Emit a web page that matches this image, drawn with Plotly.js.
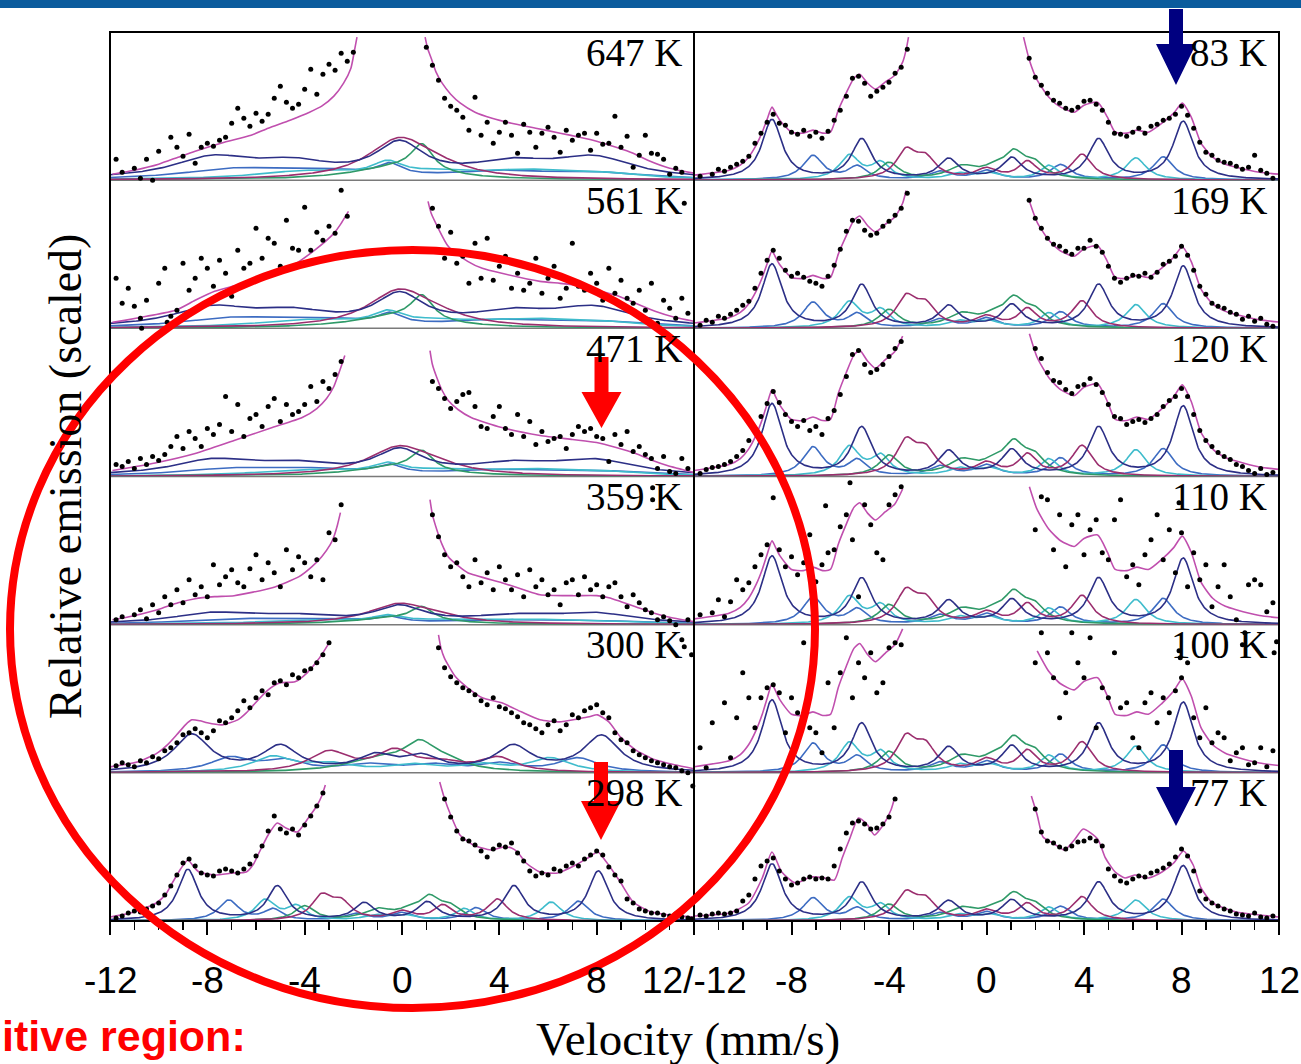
<!DOCTYPE html>
<html>
<head>
<meta charset="utf-8">
<script src="https://cdn.plot.ly/plotly-3.0.1.min.js"></script>
<style>
html,body{margin:0;padding:0;background:#ffffff;overflow:hidden;}
#chart{width:1301px;height:1064px;}
</style>
</head>
<body>
<div id="chart"></div>
<script>
// ================= DATA =================
// velocity in mm/s, emission in panel units (0 = panel baseline)
const temperatureLabels = ['647 K','561 K','471 K','359 K','300 K','298 K','83 K','169 K','120 K','110 K','100 K','77 K'];
const leftTickVel = [-12,-8,-4,0,4,8,12];
const leftTickText = ['-12','-8','-4','0','4','8','12/-12'];
const rightTickVel = [-8,-4,0,4,8,12];
const rightTickText = ['-8','-4','0','4','8','12'];

// ---- fitted envelopes [velocity, emission] ----
const fit647L = [[-11.9,6],[-11,10],[-10,16],[-9.2,23],[-8.5,29],[-7.3,38],[-6.2,45],[-5.5,52],[-4.6,60],[-3.8,68],[-3.3,74],[-2.8,84],[-2.4,97],[-2.1,112],[-1.95,130],[-1.85,143]];
const fit647R = [[0.95,143],[1.05,132],[1.2,122],[1.4,108],[1.65,97],[2.0,86],[2.4,77],[3.0,68],[3.7,62],[4.5,57],[5.5,52],[6.5,47],[7.3,43],[8.0,39],[8.8,33],[9.5,27],[10.1,20],[11,12],[12,7]];
const fit561L = [[-11.9,6],[-11.4,8],[-10.5,12],[-9.3,18],[-8.5,28],[-7.7,37],[-6.8,43],[-5.8,50],[-4.55,62],[-3.6,78],[-2.8,95],[-2.5,105],[-2.3,113],[-2.2,117]];
const fit561R = [[1.07,127],[1.2,115],[1.43,103],[1.9,82],[2.7,67],[3.3,60],[4.1,55],[5.67,47],[6.5,45],[7.2,43],[8.0,38],[8.8,33],[9.6,25],[10.4,17],[11.2,11],[12,7]];
const fit471L = [[-11.9,6],[-11.4,8],[-10.05,14],[-8.5,23],[-6.9,36],[-5.33,49],[-4.1,59],[-3.5,68],[-3.1,78],[-2.8,90],[-2.66,99],[-2.5,110],[-2.35,121]];
const fit471R = [[1.15,126],[1.25,112],[1.43,99],[1.65,86],[1.9,76],[2.3,67],[2.84,59],[4.1,49],[5.67,41],[7.0,37],[8.0,34],[8.8,29],[9.6,23],[10.3,16],[10.9,11],[12,4]];
const fit359L = [[-11.9,5],[-11.4,7],[-10.05,15],[-9.2,22],[-8.5,26],[-7.7,28],[-6.9,29],[-5.33,37],[-4.23,48],[-3.7,58],[-3.3,68],[-2.95,80],[-2.8,88],[-2.65,100],[-2.53,112]];
const fit359R = [[1.15,125],[1.25,110],[1.43,95],[1.65,80],[1.9,68],[2.3,59],[2.7,52],[4.1,42],[5.0,35],[5.67,30],[7.0,29],[8.0,29],[8.5,27],[9.0,23],[9.6,18],[10.3,12],[10.9,8],[12,3]];
const fit300L = [[-12,6],[-10.84,11],[-10.05,20],[-9.6,29],[-9.26,38],[-8.9,48],[-8.64,53],[-8.3,52],[-8.0,50],[-7.4,48],[-6.75,53],[-6.4,60],[-6.1,68],[-5.5,83],[-5.0,90],[-4.4,91],[-3.9,100],[-3.45,113],[-3.2,122],[-2.97,131]];
const fit300R = [[1.5,138],[1.6,125],[1.74,115],[2.2,96],[2.7,85],[3.3,75],[4.1,70],[4.9,61],[5.67,53],[6.46,51],[7.24,54],[7.7,56],[8.03,58],[8.5,51],[8.97,36],[9.6,23],[10.4,13],[11.2,8],[12,4]];
const fit298L = [[-12,4],[-11,9],[-10.1,18],[-9.7,27],[-9.44,38],[-9.1,52],[-8.8,61],[-8.55,54],[-8.34,49],[-7.7,46],[-6.96,48],[-6.4,49],[-6.1,57],[-5.86,69],[-5.5,86],[-5.13,98],[-4.77,93],[-4.3,89],[-3.85,103],[-3.48,116],[-3.3,125],[-3.15,136]];
const fit298R = [[1.55,139],[1.74,123],[2.0,106],[2.38,86],[2.93,76],[3.66,71],[4.2,74],[4.5,73],[4.75,69],[5.1,58],[5.67,49],[6.4,48],[7.14,56],[7.7,64],[8.05,69],[8.4,59],[8.97,39],[9.5,19],[10.25,9],[11,6],[12,4]];
const fitLowTL = [[-12,5],[-10.56,10],[-10.1,15],[-9.76,23],[-9.45,35],[-9.2,48],[-9.0,61],[-8.8,73],[-8.65,67],[-8.48,60],[-8.0,48],[-7.52,47],[-7.12,50],[-6.72,47],[-6.4,48],[-6.08,70],[-5.76,87],[-5.44,102],[-5.2,106],[-4.88,97],[-4.56,91],[-4.16,98],[-3.76,105],[-3.44,118],[-3.3,130],[-3.2,143]];
const fitLowTR = [[1.52,143],[1.76,120],[2.08,100],[2.56,83],[3.04,73],[3.6,68],[4.0,75],[4.56,78],[4.96,63],[5.28,48],[5.76,47],[6.16,50],[6.64,48],[7.2,57],[7.68,67],[8.03,77],[8.4,63],[8.8,37],[9.28,23],[9.8,16],[10.24,13],[11.2,8],[12,6]];
const fit77L = [[-12,5],[-10.56,8],[-9.76,18],[-9.2,43],[-8.8,69],[-8.4,49],[-7.84,38],[-7.2,44],[-6.64,43],[-6.24,41],[-5.92,63],[-5.6,83],[-5.25,103],[-4.88,96],[-4.6,86],[-4.24,96],[-3.92,111],[-3.76,124]];
const fit77R = [[1.84,125],[2.08,106],[2.32,84],[2.72,78],[3.2,71],[3.6,81],[3.97,92],[4.56,82],[4.88,63],[5.28,49],[5.68,43],[6.08,46],[6.64,43],[7.2,49],[7.68,58],[8.08,70],[8.48,56],[8.8,33],[9.28,18],[10.24,9],[11.2,6],[12,4]];
const lowTFitScale = {'83 K':1.0,'169 K':1.06,'120 K':1.19,'110 K':1.15,'100 K':1.22};

// ---- measured points: left arrays start at -11.75, right arrays end at +11.75, 0.25 mm/s channels ----
const dots647L = [21,8,-6,12,2,21,0,29,-7,43,33,24,46,17,33,37,34,40,43,57,72,62,54,67,59,66,82,94,78,72,76,91,111,86,106,116,110,127,119,128];
const dots647R = [133,115,100,82,74,70,63,50,83,45,58,37,48,58,45,27,56,48,33,47,53,43,28,50,40,45,47,30,47,36,37,64,33,44,13,25,45,27,26,21,6,12,8,-2];
const dots561L = [50,25,40,22,10,28,-2,45,60,12,18,65,38,50,70,60,42,68,55,32,78,60,65,100,70,90,85,62,108,80,78,121,78,96,88,102,95,138,112];
const dots561R = [120,102,70,96,65,72,45,85,50,90,48,62,72,40,55,38,45,70,35,50,62,30,40,85,42,38,55,45,28,60,35,48,30,25,38,18,45,5,28,20,10,30,15];
const dots471L = [12,10,15,8,18,12,20,16,22,30,40,28,45,38,30,48,42,52,80,45,72,40,58,62,50,70,78,55,72,62,65,72,90,75,95,88,102,115];
const dots471R = [95,88,78,68,75,82,84,70,50,48,60,70,48,42,62,40,55,32,45,35,38,40,28,42,50,45,48,40,38,15,42,32,45,25,30,22,18,8,20,5,3,18,8];
const dots359L = [5,8,-2,10,15,6,20,12,28,20,35,22,45,30,38,28,60,40,48,55,42,38,56,70,45,62,52,38,75,55,68,62,48,65,45,92,85,120];
const dots359R = [110,88,70,58,62,48,38,65,42,52,35,58,45,35,50,28,55,38,45,30,35,20,42,45,30,48,35,40,28,38,42,28,18,30,22,15,12,5,8,4,0,-2,5];
const dots300L = [7,10,8,6,12,10,16,14,22,25,30,38,40,44,40,35,42,52,50,55,62,72,65,75,82,78,90,92,88,98,95,102,104,110,118,130];
const dots300R = [125,105,96,90,85,82,78,72,68,75,66,64,60,56,50,48,44,40,48,52,42,48,58,55,62,65,68,60,55,40,33,30,22,18,15,12,10,8,6,5,2,0];
const dots298L = [3,5,8,10,9,12,15,18,26,35,46,58,62,55,48,46,45,50,52,50,48,52,57,65,75,90,105,92,88,92,86,96,105,115,128];
const dots298R = [122,104,90,82,80,76,70,64,72,76,74,78,68,60,50,45,48,46,52,50,55,58,55,62,66,70,66,54,46,40,22,18,12,10,8,8,6,5,7,4,3];
const dots83L = [4,-2,6,11,9,13,16,19,24,37,47,58,66,57,55,48,46,50,44,48,42,49,60,70,84,102,104,97,84,89,93,98,107,113,131];
const dots83R = [122,103,95,87,80,77,72,70,73,79,80,76,70,58,47,46,44,48,52,47,54,56,60,62,66,74,65,52,38,28,25,20,18,17,14,11,13,25,10,7,2];
const dots169L = [3,8,6,12,10,14,18,23,27,40,55,68,78,70,58,52,55,51,47,45,42,52,63,79,97,108,107,98,93,95,102,107,113,120,135];
const dots169R = [128,110,100,90,84,82,77,74,80,80,88,82,76,62,50,46,50,53,52,55,51,56,64,67,72,82,73,58,42,34,25,22,20,16,14,9,12,7,10,4,2];
const dots120L = [3,7,9,10,12,15,20,26,36,48,60,73,85,74,62,55,50,56,46,50,42,58,66,82,100,122,126,112,104,107,112,120,128,135];
const dots120R = [128,118,104,96,94,87,83,90,92,98,92,84,72,60,58,52,55,57,54,58,62,70,76,80,88,80,62,46,36,30,24,20,17,12,10,6,3,8,2,4];
const dots110L = [10,-2,12,25,8,23,45,35,42,58,70,80,127,75,58,68,50,62,90,43,60,72,75,98,110,85,28,120,100,72,65,120,130,138];
const dots110R = [95,128,125,75,110,58,100,110,70,95,105,72,65,105,125,48,60,40,70,85,110,65,95,52,92,38,72,45,60,18,38,60,28,5,-2,40,45,40,13,22];
const dots100L = [25,5,50,-3,70,15,55,100,75,45,75,85,88,80,40,75,60,130,45,40,20,90,45,100,135,75,110,95,120,80,90,125,130,128];
const dots100R = [110,140,120,95,55,80,140,110,95,135,45,85,75,120,65,70,35,25,70,80,50,75,60,82,95,110,55,35,65,30,40,35,12,20,25,8,10,25,6,22];
const dots77L = [6,5,7,8,7,8,10,20,26,42,55,60,63,50,42,36,38,42,44,42,43,42,55,72,88,98,100,97,92,93,97,104,122];
const dots77R = [112,89,80,78,74,72,75,79,80,83,80,75,52,45,40,38,42,45,44,48,50,53,57,64,72,65,50,30,22,18,15,12,10,7,6,5,8,4,3,5];

// ---- stray points outside the channel grid [velocity, emission] ----
const extra647 = [[-11.4,-2],[-11.15,-10],[-11.0,-23],[-10.75,-11],[-10.45,-4],[-9.9,-5],[-9.25,-11],[1.1,-2],[11.3,-3],[11.6,-2]];
const extra561 = [[-10.9,-20],[-10.1,-26],[-9.5,-20],[-10.7,0],[-9.65,6],[11.6,125],[11.9,-3]];
const extra471 = [[-11.3,-18],[-10.4,-2],[-9.8,-6],[-9.4,-16],[-9.2,-5],[11.9,-4]];
const extra359 = [[-11.2,-13],[-11.15,-25],[-10.9,-7],[-10.6,-17],[-10.4,-10],[-10.0,-13],[-9.65,-8],[10.3,137],[10.3,125],[11.9,-2]];
const extra300 = [[-11.7,-4],[-11.9,-1],[11.5,133],[11.6,126],[11.9,118]];
const extra298 = [[11.95,135],[11.9,2]];
const extra83 = [[-11.2,-3],[-10.5,-2],[10.96,-2],[11.6,-3]];
const extra169 = [[-11.0,-2],[-10.2,-3],[11.8,-3]];
const extra120 = [[-12,-23],[-8.9,-21],[-8.7,-5],[-5.5,-6],[2.4,-6],[5.5,-16],[7.0,-8],[11.8,-2]];
const extra110 = [[-11.9,-27],[-11.05,-18],[-10.0,-8],[-9.3,-20],[-8.9,-7],[-9.4,-30],[-11.7,-33],[-5.6,-12],[2.0,-2],[2.8,-22],[3.44,-35],[3.9,-8],[4.5,-32],[5.2,-43],[8.7,-2],[10.5,-8],[11.9,-17],[7.9,122],[-6.6,119],[-5.6,142]];
const extra100 = [[-10.1,-40],[-8.5,-19],[-10.8,-15],[-7.0,-10],[10.56,-40],[11.6,-43],[7.3,-24],[10.9,-32],[7.9,122],[7.95,115],[10.6,140],[10.5,128],[11.8,120],[11.9,131]];
const extra77 = [[11.9,-2]];

// ---- fitted sub-spectra: peaks [centre, height, half-width] ----
const highT_navy   = [[-7.8,20,2],[-4.5,14,2],[-0.1,33,1.2],[4.5,14,2],[7.9,20,2]];
const highT_blue   = [[-7,9,2.5],[-3.5,8,2.5],[-0.5,11,0.6],[4,7,2.5],[8,6,2.5]];
const highT_cyan   = [[-4,8,2.5],[-0.6,14,0.8],[1.5,5,1.5],[5,8,2.5],[8,5,2]];
const highT_green  = [[0.82,27,0.55],[-0.3,12,2.2]];
const highT_purple = [[-0.1,40,1.6],[1.5,6,1.5]];
const highTScale = {'647 K':1.0,'561 K':0.92,'471 K':0.72,'359 K':0.5};

const r300_navy   = [[-8.64,37,0.9],[-5.0,25,0.9],[-1.1,15,0.9],[0.8,14,0.9],[4.57,25,0.9],[8.2,36,0.9]];
const r300_blue   = [[-7.06,14,1],[-4.86,11,1],[-1.5,7,1.2],[1.2,7,1.2],[4.0,8,1],[7.24,14,1]];
const r300_cyan   = [[-5.33,15,1],[-3.0,8,1.2],[0.5,7,1.2],[3.3,7,1],[6.1,14,1]];
const r300_green  = [[0.72,24,0.8],[-1.0,12,1.6],[1.8,8,1]];
const r300_purple = [[-3.0,20,1.0],[-0.3,20,0.9],[1.6,8,1],[3.94,14,0.9]];

const lowT_navy   = [[-8.8,60,0.5],[-5.12,40,0.5],[-1.55,20,0.5],[1.04,21,0.5],[4.6,40,0.5],[8.07,58,0.5]];
const lowT_blue   = [[-7.12,24,0.5],[-5.3,13,0.45],[-1.9,8,0.55],[0.0,9,0.55],[3.04,15,0.5],[7.25,23,0.5]];
const lowT_cyan   = [[-5.62,24,0.5],[-4.34,16,0.45],[-1.1,6,0.55],[0.1,6,0.55],[2.56,14,0.45],[6.13,22,0.5]];
const lowT_green  = [[-4.0,17,0.5],[-1.0,12,0.7],[0.3,8,0.6],[1.12,23,0.5],[1.95,14,0.55]];
const lowT_purple = [[-3.3,27,0.5],[-2.5,19,0.5],[0.0,10,0.55],[1.68,17,0.45],[3.92,25,0.5]];
const lowTScale = {'298 K':0.85,'83 K':1.0,'169 K':1.06,'120 K':1.2,'110 K':1.13,'100 K':1.2,'77 K':0.94};

// ================= LAYOUT CONSTANTS =================
const W = 1301, H = 1064;
const PL = 110, PM = 694, PR = 1279, PT = 32, PB = 921;
const ROWH = (PB - PT) / 6;
const CH = 0.25;
const compColors = ['#3d6cc2','#3fbccc','#2f9a68','#9b2e6e','#2c2f86']; // blue, cyan, green, purple, navy
const fitColor = '#c04fae';
const serif = '"Liberation Serif","Times New Roman",serif';
const sans = '"Liberation Sans",Arial,sans-serif';

const GRID = [];
for (let i = 0; i <= 600; i++) GRID.push(-12 + i * 0.04);
function lorentz(peaks, s) {
  return GRID.map(v => peaks.reduce((acc, p) => acc + s * p[1] / (1 + Math.pow((v - p[0]) / p[2], 2)), 0));
}
const leftCh = n => Array.from({length:n}, (_, i) => -11.75 + i * CH);
const rightCh = n => Array.from({length:n}, (_, i) => 11.75 - (n - 1 - i) * CH);

const highT = [highT_blue, highT_cyan, highT_green, highT_purple, highT_navy];
const r300 = [r300_blue, r300_cyan, r300_green, r300_purple, r300_navy];
const lowT = [lowT_blue, lowT_cyan, lowT_green, lowT_purple, lowT_navy];

const panels = [
  {t:temperatureLabels[0], col:0,row:0, fL:fit647L, fR:fit647R, fs:1, dL:dots647L, dR:dots647R, ex:extra647, comps:highT, cs:highTScale['647 K']},
  {t:temperatureLabels[1], col:0,row:1, fL:fit561L, fR:fit561R, fs:1, dL:dots561L, dR:dots561R, ex:extra561, comps:highT, cs:highTScale['561 K']},
  {t:temperatureLabels[2], col:0,row:2, fL:fit471L, fR:fit471R, fs:1, dL:dots471L, dR:dots471R, ex:extra471, comps:highT, cs:highTScale['471 K']},
  {t:temperatureLabels[3], col:0,row:3, fL:fit359L, fR:fit359R, fs:1, dL:dots359L, dR:dots359R, ex:extra359, comps:highT, cs:highTScale['359 K']},
  {t:temperatureLabels[4], col:0,row:4, fL:fit300L, fR:fit300R, fs:1, dL:dots300L, dR:dots300R, ex:extra300, comps:r300, cs:1},
  {t:temperatureLabels[5], col:0,row:5, fL:fit298L, fR:fit298R, fs:1, dL:dots298L, dR:dots298R, ex:extra298, comps:lowT, cs:lowTScale['298 K']},
  {t:temperatureLabels[6], col:1,row:0, fL:fitLowTL, fR:fitLowTR, fs:lowTFitScale['83 K'],  dL:dots83L,  dR:dots83R,  ex:extra83,  comps:lowT, cs:lowTScale['83 K']},
  {t:temperatureLabels[7], col:1,row:1, fL:fitLowTL, fR:fitLowTR, fs:lowTFitScale['169 K'], dL:dots169L, dR:dots169R, ex:extra169, comps:lowT, cs:lowTScale['169 K']},
  {t:temperatureLabels[8], col:1,row:2, fL:fitLowTL, fR:fitLowTR, fs:lowTFitScale['120 K'], dL:dots120L, dR:dots120R, ex:extra120, comps:lowT, cs:lowTScale['120 K']},
  {t:temperatureLabels[9], col:1,row:3, fL:fitLowTL, fR:fitLowTR, fs:lowTFitScale['110 K'], dL:dots110L, dR:dots110R, ex:extra110, comps:lowT, cs:lowTScale['110 K']},
  {t:temperatureLabels[10], col:1,row:4, fL:fitLowTL, fR:fitLowTR, fs:lowTFitScale['100 K'], dL:dots100L, dR:dots100R, ex:extra100, comps:lowT, cs:lowTScale['100 K']},
  {t:temperatureLabels[11], col:1,row:5, fL:fit77L, fR:fit77R, fs:1, dL:dots77L, dR:dots77R, ex:extra77, comps:lowT, cs:lowTScale['77 K']}
];

const px = x => x / W;
const py = y => 1 - y / H;

const traces = [];
const layout = {
  width: W, height: H,
  margin: {l:0, r:0, t:0, b:0},
  paper_bgcolor: '#ffffff',
  plot_bgcolor: 'rgba(0,0,0,0)',
  showlegend: false,
  shapes: [], annotations: []
};

panels.forEach((p, i) => {
  const n = i + 1;
  const xa = 'x' + (n > 1 ? n : ''), ya = 'y' + (n > 1 ? n : '');
  const xk = 'xaxis' + (n > 1 ? n : ''), yk = 'yaxis' + (n > 1 ? n : '');
  const top = PT + p.row * ROWH, bot = top + ROWH;
  const x0 = p.col === 0 ? PL : PM, x1 = p.col === 0 ? PM : PR;
  const isBottom = p.row === 5;
  layout[xk] = {
    domain: [px(x0), px(x1)], range: [-12, 12], anchor: ya,
    showgrid: false, zeroline: false, showline: false, showticklabels: false,
    ticks: isBottom ? 'outside' : '', tickmode: 'linear', tick0: 0, dtick: 4,
    ticklen: 13, tickwidth: 2, tickcolor: '#000',
    minor: isBottom ? {ticks:'outside', tickmode:'linear', tick0:0, dtick:1, ticklen:8, tickwidth:1.5, tickcolor:'#000', showgrid:false} : undefined,
    fixedrange: true
  };
  layout[yk] = {
    domain: [py(bot), py(top)], range: [0, ROWH], anchor: xa,
    showgrid: false, zeroline: false, showline: false, showticklabels: false, ticks: '', fixedrange: true
  };
  p.comps.forEach((pk, k) => {
    traces.push({type:'scatter', mode:'lines', x: GRID, y: lorentz(pk, p.cs), xaxis: xa, yaxis: ya,
      line: {color: compColors[k], width: 1.6}, hoverinfo: 'skip'});
  });
  [p.fL, p.fR].forEach(seg => {
    const pts = seg.filter(q => q[1] * p.fs <= 146);
    traces.push({type:'scatter', mode:'lines', x: pts.map(q => q[0]), y: pts.map(q => q[1] * p.fs),
      xaxis: xa, yaxis: ya, line: {color: fitColor, width: 1.6, shape: 'spline', smoothing: 0.6}, hoverinfo: 'skip'});
  });
  const dx = leftCh(p.dL.length).concat(rightCh(p.dR.length), p.ex.map(q => q[0]));
  const dy = p.dL.concat(p.dR, p.ex.map(q => q[1]));
  traces.push({type:'scatter', mode:'markers', x: dx, y: dy, xaxis: xa, yaxis: ya, cliponaxis: false,
    marker: {size: 5, color: '#000'}, hoverinfo: 'skip'});
  layout.annotations.push({xref:'paper', yref:'paper', x: px(p.col === 0 ? 684 : 1269), y: py(top + 20),
    xanchor:'right', yanchor:'middle', showarrow:false, text: p.t, font:{family: serif, size: 39, color:'#000'}});
  if (p.row > 0 && p.col === 0) {
    layout.shapes.push({type:'line', xref:'paper', yref:'paper', x0: px(PL), x1: px(PR), y0: py(top), y1: py(top),
      line:{color:'#7a7a7a', width:1.5}, layer:'below'});
  }
});

leftTickVel.forEach((v, j) => layout.annotations.push({xref:'x6', yref:'paper', x: v, y: py(980), xanchor:'center', yanchor:'middle',
  showarrow:false, text: leftTickText[j], font:{family: sans, size: 37, color:'#000'}}));
rightTickVel.forEach((v, j) => layout.annotations.push({xref:'x12', yref:'paper', x: v, y: py(980), xanchor:'center', yanchor:'middle',
  showarrow:false, text: rightTickText[j], font:{family: sans, size: 37, color:'#000'}}));

layout.annotations.push({xref:'paper', yref:'paper', x: px(688), y: py(1039), xanchor:'center', yanchor:'middle', showarrow:false,
  text:'Velocity (mm/s)', font:{family: serif, size: 47, color:'#000'}});
layout.annotations.push({xref:'paper', yref:'paper', x: px(66), y: py(477), xanchor:'center', yanchor:'middle', showarrow:false,
  textangle:-90, text:'Relative emission (scaled)', font:{family: serif, size: 46, color:'#000'}});
layout.annotations.push({xref:'paper', yref:'paper', x: 0, y: py(1036), xanchor:'left', yanchor:'middle', showarrow:false,
  text:'<b>itive region:</b>', font:{family: sans, size: 43, color:'#ff0000'}});

layout.shapes.push({type:'rect', xref:'paper', yref:'paper', x0: px(PL), x1: px(PR), y0: py(PB), y1: py(PT),
  line:{color:'#000', width:2}, layer:'above'});
layout.shapes.push({type:'line', xref:'paper', yref:'paper', x0: px(PM), x1: px(PM), y0: py(PB), y1: py(PT),
  line:{color:'#000', width:2}, layer:'above'});
layout.shapes.push({type:'rect', xref:'paper', yref:'paper', x0: 0, x1: 1, y0: py(8), y1: 1,
  line:{width:0}, fillcolor:'#0b5c9d', layer:'above'});

layout.shapes.push({type:'circle', xref:'paper', yref:'paper', x0: px(10), x1: px(815), y0: py(1008), y1: py(250),
  line:{color:'#ff0000', width:8}, layer:'above'});

function arrowPath(cx, yTop, yHead, yTip, stemHalf, headHalf) {
  const P = (x, y) => px(x).toFixed(5) + ',' + py(y).toFixed(5);
  return 'M' + P(cx - stemHalf, yTop) + ' L' + P(cx + stemHalf, yTop) + ' L' + P(cx + stemHalf, yHead) +
         ' L' + P(cx + headHalf, yHead) + ' L' + P(cx, yTip) + ' L' + P(cx - headHalf, yHead) +
         ' L' + P(cx - stemHalf, yHead) + ' Z';
}
[[601.5, 357, 392, 428, '#ff0000'], [601, 762, 801, 840, '#ff0000'],
 [1176, 9, 44, 85, '#000080'], [1176, 750, 787, 826, '#000080']].forEach(a => {
  layout.shapes.push({type:'path', xref:'paper', yref:'paper', path: arrowPath(a[0], a[1], a[2], a[3], 7, 20),
    fillcolor: a[4], line:{width:0}, layer:'above'});
});

Plotly.newPlot('chart', traces, layout, {staticPlot: true, displayModeBar: false});
</script>
</body>
</html>
